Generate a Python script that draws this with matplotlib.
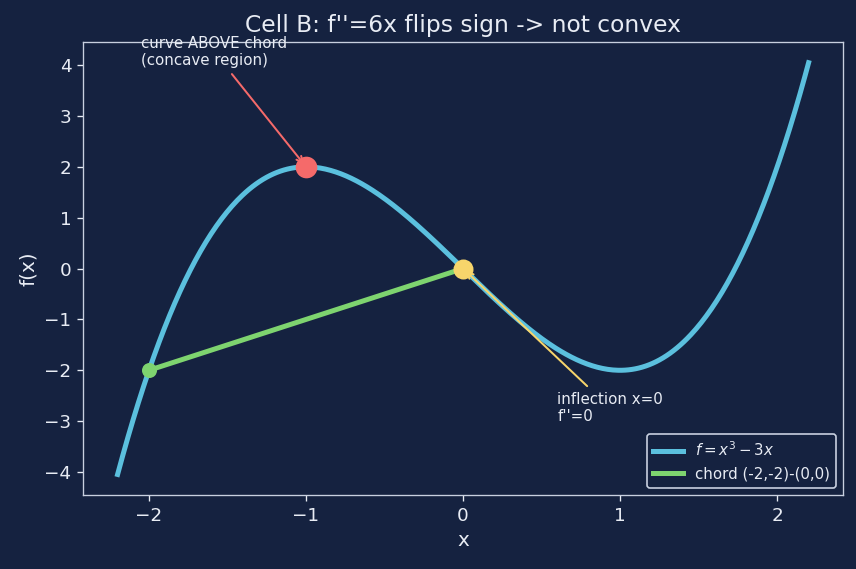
import numpy as np
import matplotlib
matplotlib.use("Agg")
from matplotlib import pyplot as plt

bg = "#152240"
fg = "#e8ecf4"

# curve f = x^3 - 3x on [-2.2, 2.2]
xs = np.linspace(-2.2, 2.2, 400)
ys = xs**3 - 3*xs

chord_x = [-2, 0]
chord_y = [-2, 0]

max_pt = (-1, 2)
infl_pt = (0, 0)
start_pt = (-2, -2)

fig = plt.figure(figsize=(856/120, 569/120), dpi=120, facecolor=bg)
ax = fig.add_axes([0.097, 0.13, 0.888, 0.796])
ax.set_facecolor(bg)

ax.plot(xs, ys, color="#5bc0de", lw=3, label="$f=x^3-3x$", zorder=2)
ax.plot(chord_x, chord_y, color="#7ed46f", lw=3, label="chord (-2,-2)-(0,0)", zorder=3)
ax.plot(*max_pt, "o", color="#f56a6a", ms=12, zorder=5)
ax.plot(*infl_pt, "o", color="#f7d56b", ms=11, zorder=5)
ax.plot(*start_pt, "o", color="#7ed46f", ms=8, zorder=5)

ax.annotate("curve ABOVE chord\n(concave region)", xy=max_pt, xytext=(-2.05, 4.0),
            color=fg, fontsize=9, annotation_clip=False,
            arrowprops=dict(arrowstyle="->", color="#f56a6a", lw=1.2))
ax.annotate("inflection x=0\nf''=0", xy=infl_pt, xytext=(0.6, -3.0),
            color=fg, fontsize=9,
            arrowprops=dict(arrowstyle="->", color="#f7d56b", lw=1.2))

ax.set_title("Cell B: f''=6x flips sign -> not convex", color=fg, fontsize=14)
ax.set_xlabel("x", color=fg, fontsize=12)
ax.set_ylabel("f(x)", color=fg, fontsize=12)
ax.tick_params(colors=fg, labelsize=11)
for s in ax.spines.values():
    s.set_color("#c8d0e0")

leg = ax.legend(loc="lower right", fontsize=9, facecolor=bg, edgecolor="#c8d0e0", labelcolor=fg)
leg.get_frame().set_alpha(1)

fig.savefig("out.png", dpi=120, facecolor=bg)
